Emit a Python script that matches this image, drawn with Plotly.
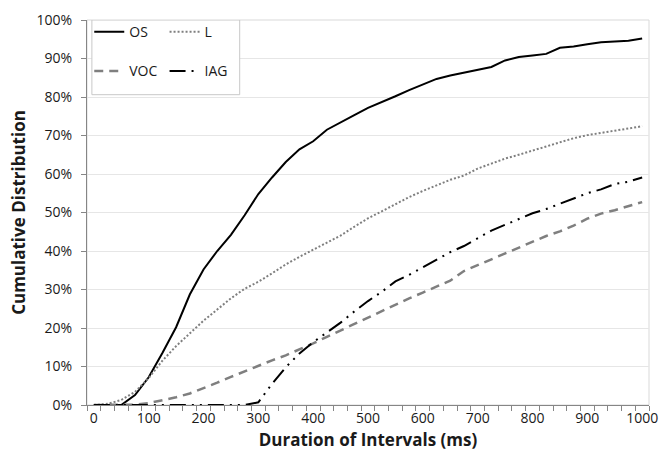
import plotly.graph_objects as go

durations = list(range(0, 1001, 25))

os_vals = [0, 0, 0, 2.6, 7.2, 13.5, 20.2, 28.7, 35.2, 40.0, 44.2, 49.3, 54.8, 59.1, 63.1,
           66.4, 68.5, 71.5, 73.5, 75.3, 77.2, 78.6, 80.2, 81.8, 83.3, 84.7, 85.6, 86.3,
           87.1, 87.8, 89.5, 90.4, 90.8, 91.2, 92.8, 93.1, 93.7, 94.2, 94.4, 94.6, 95.2]
l_vals = [0, 0.3, 1.3, 3.4, 7.0, 11.5, 15.3, 18.7, 21.9, 24.8, 27.7, 30.2, 32.0, 34.2, 36.5,
          38.5, 40.3, 42.1, 44.0, 46.3, 48.5, 50.3, 52.2, 54.0, 55.6, 57.1, 58.5, 59.6,
          61.4, 62.7, 64.0, 65.0, 66.1, 67.2, 68.4, 69.3, 70.1, 70.7, 71.2, 71.8, 72.4]
voc_vals = [0, 0, 0, 0.1, 0.5, 1.2, 2.0, 3.0, 4.3, 5.8, 7.3, 8.8, 10.2, 11.6, 12.9,
            14.4, 16.0, 17.7, 19.4, 21.1, 22.8, 24.4, 26.0, 27.7, 29.2, 30.8, 32.3, 34.8,
            36.3, 37.8, 39.3, 40.7, 42.4, 43.9, 45.1, 46.6, 48.4, 49.7, 50.6, 51.7, 52.7]
iag_vals = [0, 0, 0, 0, 0, 0, 0, 0, 0, 0, 0, 0, 0.7, 5.5, 9.8,
            13.4, 16.3, 18.8, 21.4, 24.3, 27.0, 29.4, 32.1, 33.8, 35.8, 37.9, 39.7, 41.3,
            43.2, 45.3, 46.8, 48.2, 49.8, 50.9, 52.3, 53.7, 55.0, 56.0, 57.4, 58.0, 59.1]

x_tick_vals = list(range(0, 1001, 100))
x_tick_text = [str(v) for v in x_tick_vals]

FONT = "Open Sans"
TXT = "#1a1a1a"

fig = go.Figure()

def add(name, vals, color, dash, width, legend, group):
    fig.add_trace(go.Scatter(
        x=durations, y=[v / 100 for v in vals], mode="lines", name=name,
        line=dict(color=color, dash=dash, width=width),
        legend=legend, legendgroup=group, hoverinfo="skip"))

add("OS", os_vals, "#000000", "solid", 2, "legend", "g1")
add("L", l_vals, "#7f7f7f", "2px,2px", 2, "legend2", "g2")
add("VOC", voc_vals, "#7f7f7f", "9px,6px", 2.5, "legend", "g3")
add("IAG", iag_vals, "#000000", "16px,6px,2px,6px,2px,6px", 2, "legend2", "g4")

legend_common = dict(
    bgcolor="rgba(0,0,0,0)", borderwidth=0, font=dict(family=FONT, size=14, color=TXT),
    orientation="v", yanchor="top", xanchor="left", tracegroupgap=18,
    itemclick=False, itemdoubleclick=False)

fig.update_layout(
    width=668, height=459,
    margin=dict(l=87, r=10, t=13, b=54),
    paper_bgcolor="white", plot_bgcolor="white",
    font=dict(family=FONT, size=14, color=TXT),
    legend=dict(x=0.004, y=1.01, **legend_common),
    legend2=dict(x=0.138, y=1.01, **legend_common),
    showlegend=True,
    xaxis=dict(
        range=[-12.5, 1012.5], tickmode="array", tickvals=x_tick_vals, ticktext=x_tick_text,
        ticks="", showgrid=False, zeroline=False,
        showline=True, linecolor="#868686", linewidth=1,
        tickfont=dict(family=FONT, size=14, color=TXT),
        minor=dict(tickmode="linear", tick0=-12.5, dtick=25, ticks="outside",
                   ticklen=5, tickcolor="#868686", showgrid=False),
        title=dict(text="<b>Duration of Intervals (ms)</b>", standoff=8,
                   font=dict(family=FONT, size=17, color=TXT)),
    ),
    yaxis=dict(
        range=[0, 1], tickmode="linear", tick0=0, dtick=0.1, tickformat=".0%",
        ticks="outside", ticklen=5, tickcolor="#868686",
        showgrid=True, gridcolor="#e6e6e6", gridwidth=1, zeroline=False,
        showline=True, linecolor="#868686", linewidth=1,
        ticklabelstandoff=6,
        tickfont=dict(family=FONT, size=14, color=TXT),
        title=dict(text="<b>Cumulative Distribution</b>", standoff=6,
                   font=dict(family=FONT, size=17, color=TXT)),
    ),
    shapes=[
        dict(type="rect", xref="paper", yref="paper", x0=0, x1=1, y0=0, y1=1,
             line=dict(color="#d9d9d9", width=1), fillcolor="rgba(0,0,0,0)", layer="below"),
        dict(type="rect", xref="x", yref="y", x0=-3.6, x1=266, y0=0.806, y1=1.0,
             line=dict(color="#c8c8c8", width=1), fillcolor="white", layer="above"),
    ],
)

fig.write_html("out.html")
